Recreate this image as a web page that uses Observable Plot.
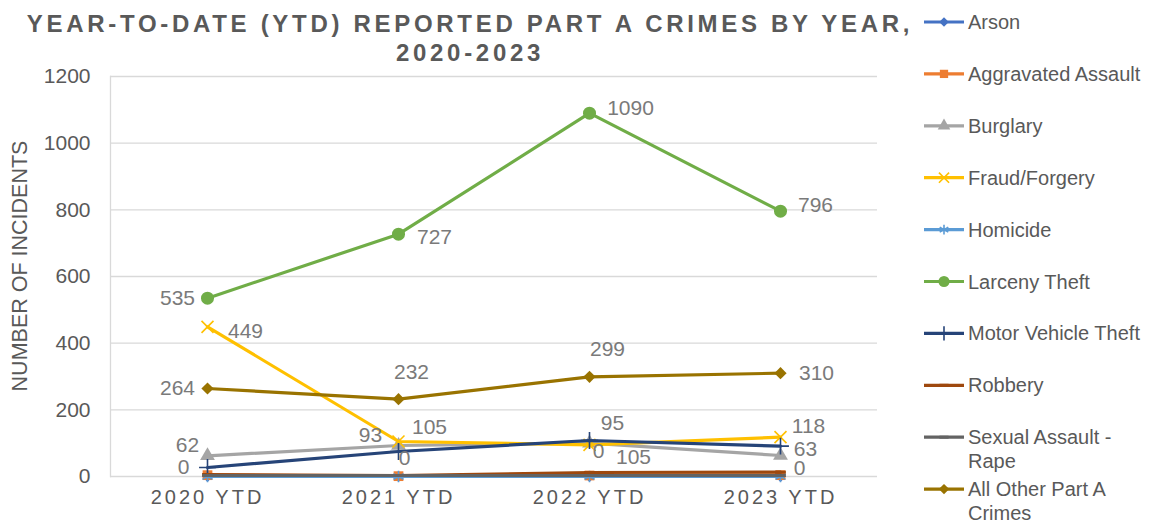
<!DOCTYPE html>
<html><head><meta charset="utf-8">
<script src="https://cdn.jsdelivr.net/npm/d3@7"></script>
<script src="https://cdn.jsdelivr.net/npm/@observablehq/plot@0.6"></script>
<style>
body{margin:0;background:#fff;}
#wrap{position:relative;width:1165px;height:522px;font-family:"Liberation Sans",Arial,sans-serif;}
#wrap svg{position:absolute;left:0;top:0;overflow:visible;}
g[aria-label="x-axis tick label"] text{letter-spacing:3px;}
</style>
</head><body><div id="wrap"></div>
<script>
const years = ["2020 YTD","2021 YTD","2022 YTD","2023 YTD"];
const seriesNames = ["Arson","Aggravated Assault","Burglary","Fraud/Forgery","Homicide","Larceny Theft","Motor Vehicle Theft","Robbery","Sexual Assault - Rape","All Other Part A Crimes"];
const arson = [0,0,0,0];
const aggravatedAssault = [4,1,3,4];
const burglary = [62,93,100,63];
const fraudForgery = [449,105,95,118];
const homicide = [0,0,0,0];
const larcenyTheft = [535,727,1090,796];
const motorVehicleTheft = [27,75,108,91];
const robbery = [6,3,12,13];
const sexualAssaultRape = [3,3,3,3];
const allOtherPartA = [264,232,299,310];
const yTicks = [0,200,400,600,800,1000,1200];
// data labels as shown in the reference: [series, year, text]
const dataLabels = [
  ["Larceny Theft","2020 YTD","535"],["Fraud/Forgery","2020 YTD","449"],["All Other Part A Crimes","2020 YTD","264"],["Burglary","2020 YTD","62"],["Homicide","2020 YTD","0"],
  ["Larceny Theft","2021 YTD","727"],["All Other Part A Crimes","2021 YTD","232"],["Fraud/Forgery","2021 YTD","105"],["Burglary","2021 YTD","93"],["Homicide","2021 YTD","0"],
  ["Larceny Theft","2022 YTD","1090"],["All Other Part A Crimes","2022 YTD","299"],["Motor Vehicle Theft","2022 YTD","95"],["Fraud/Forgery","2022 YTD","0"],["Robbery","2022 YTD","105"],
  ["Larceny Theft","2023 YTD","796"],["All Other Part A Crimes","2023 YTD","310"],["Fraud/Forgery","2023 YTD","118"],["Burglary","2023 YTD","63"],["Aggravated Assault","2023 YTD","0"]
];

const allValues = [arson,aggravatedAssault,burglary,fraudForgery,homicide,larcenyTheft,motorVehicleTheft,robbery,sexualAssaultRape,allOtherPartA];
const colors = ["#4472c4","#ed7d31","#a5a5a5","#ffc000","#5b9bd5","#70ad47","#264478","#9e480e","#636363","#997300"];
const dash = {draw(ctx, size){ const w = Math.sqrt(size)*1.1; ctx.moveTo(-w/2,-1.5); ctx.lineTo(w/2,-1.5); ctx.lineTo(w/2,1.5); ctx.lineTo(-w/2,1.5); ctx.closePath(); }};
const markerSpec = [
  {symbol:"diamond2", r:5, mode:"fill"},
  {symbol:"square", r:5.5, mode:"fill"},
  {symbol:"triangle", r:5.5, mode:"fill"},
  {symbol:"times", r:5.5, mode:"stroke"},
  {symbol:"asterisk", r:5.5, mode:"stroke"},
  {symbol:"circle", r:6.5, mode:"fill"},
  {symbol:"plus", r:5.5, mode:"stroke"},
  {symbol:dash, r:5.5, mode:"fill"},
  {symbol:dash, r:5.5, mode:"fill"},
  {symbol:"diamond2", r:5.5, mode:"fill"}
];
const rows = [];
seriesNames.forEach((s,i)=>years.forEach((yr,j)=>rows.push({series:s, year:yr, value:allValues[i][j]})));
const valueOf = (s,yr)=>allValues[seriesNames.indexOf(s)][years.indexOf(yr)];
const offsets = [[-30,0],[38,4],[-30,0],[-20,-11],[-24,-9],
  [36,3],[13,-27],[31,-14],[-28,-10],[6,-18],
  [41,-5],[18,-28],[23,-17],[9,6],[44,-15],
  [35,-6],[36,0],[28,-11],[25,-6],[19,-7]];
const labelRows = dataLabels.map(([s,yr,t],k)=>({series:s, year:yr, text:t, value:valueOf(s,yr), dx:offsets[k][0], dy:offsets[k][1]}));

const marks = [
  Plot.ruleY(yTicks, {y:d=>d, stroke:"#d9d9d9", strokeWidth:1.3}),
  Plot.axisY({ticks:yTicks, tickFormat:d3.format("d"), tickSize:0, tickPadding:20, fontSize:21, label:null, fill:"#595959"}),
  Plot.axisX({tickSize:0, tickPadding:13, fontSize:20, label:null, fill:"#595959"})
];
try { marks.push(Plot.frame({anchor:"left", stroke:"#d9d9d9", strokeWidth:1.3})); } catch(e) {}
seriesNames.forEach((s,i)=>{
  const d = rows.filter(r=>r.series===s);
  marks.push(Plot.line(d, {x:"year", y:"value", stroke:colors[i], strokeWidth:3.2, strokeLinejoin:"round", strokeLinecap:"round"}));
  const m = markerSpec[i];
  marks.push(Plot.dot(d, {x:"year", y:"value", symbol:()=>m.symbol, r:m.r,
    fill: m.mode==="fill"?colors[i]:"none", stroke: m.mode==="stroke"?colors[i]:"none", strokeWidth:1.6}));
});
labelRows.forEach(l=>{
  marks.push(Plot.text([l], {x:"year", y:"value", text:"text", dx:l.dx, dy:l.dy, fill:"#7a7a7a", fontSize:21}));
});

const chart = Plot.plot({
  width:880, height:522, marginLeft:110, marginRight:3, marginTop:76, marginBottom:46,
  style:{fontFamily:"Liberation Sans, Arial, sans-serif", background:"transparent", color:"#595959", overflow:"visible"},
  x:{type:"point", domain:years, padding:0.5},
  y:{domain:[0,1200]},
  symbol:{type:"identity"},
  marks
});
document.getElementById("wrap").appendChild(chart);

// overlay: title, y-axis title, legend
const ov = d3.select("#wrap").append("svg").attr("width",1165).attr("height",522)
  .style("font-family","Liberation Sans, Arial, sans-serif");
const title = ov.append("text").attr("text-anchor","middle").attr("fill","#595959")
  .attr("font-weight","bold").attr("font-size",24).style("letter-spacing","3.7px");
title.append("tspan").attr("x",470).attr("y",32).text("YEAR-TO-DATE (YTD) REPORTED PART A CRIMES BY YEAR,");
title.append("tspan").attr("x",470).attr("y",61).text("2020-2023");
ov.append("text").attr("transform","translate(27,266) rotate(-90)").attr("text-anchor","middle")
  .attr("fill","#595959").attr("font-size",21.5).text("NUMBER OF INCIDENTS");

const legendLines = [["Arson"],["Aggravated Assault"],["Burglary"],["Fraud/Forgery"],["Homicide"],["Larceny Theft"],["Motor Vehicle Theft"],["Robbery"],["Sexual Assault -","Rape"],["All Other Part A","Crimes"]];
const d3sym = {diamond2:d3.symbolDiamond2, square:d3.symbolSquare, triangle:d3.symbolTriangle, times:d3.symbolTimes, asterisk:d3.symbolAsterisk, circle:d3.symbolCircle, plus:d3.symbolPlus};
seriesNames.forEach((s,i)=>{
  const cy = 22 + i*51.9;
  const g = ov.append("g");
  g.append("line").attr("x1",924).attr("x2",964).attr("y1",cy).attr("y2",cy).attr("stroke",colors[i]).attr("stroke-width",3.2);
  const m = markerSpec[i];
  const type = typeof m.symbol === "string" ? d3sym[m.symbol] : m.symbol;
  const size = Math.PI*(m.r*0.85)*(m.r*0.85);
  g.append("path").attr("transform",`translate(944,${cy})`).attr("d", d3.symbol(type, size)())
    .attr("fill", m.mode==="fill"?colors[i]:"none").attr("stroke", m.mode==="stroke"?colors[i]:"none").attr("stroke-width",1.6);
  const t = g.append("text").attr("fill","#595959").attr("font-size",20);
  legendLines[i].forEach((ln,k)=>t.append("tspan").attr("x",968).attr("y",cy+7+k*23.5).text(ln));
});
</script>
</body></html>
